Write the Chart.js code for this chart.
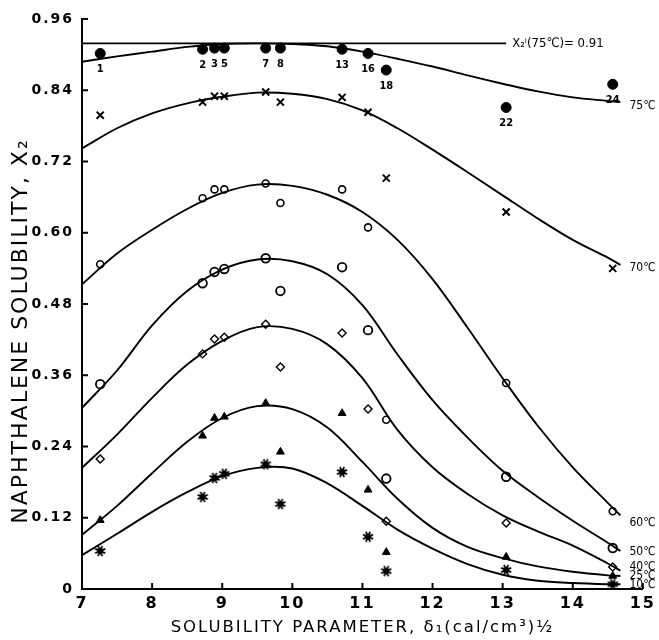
<!DOCTYPE html>
<html>
<head>
<meta charset="utf-8">
<script src="https://cdn.jsdelivr.net/npm/chart.js@4/dist/chart.umd.min.js"></script>
<style>
  html, body { margin: 0; padding: 0; background: #fff; }
  #wrap { width: 659px; height: 640px; }
</style>
</head>
<body>
<div id="wrap"><canvas id="c" width="659" height="640"></canvas></div>
<script>
// ---------- data ----------
const solventDelta = [7.26, 8.72, 8.89, 9.03, 9.62, 9.83, 10.71, 11.08, 11.34, 13.05, 14.57];
const solventNo    = ['1', '2', '3', '5', '7', '8', '13', '16', '18', '22', '24'];

const obs75 = [0.902, 0.909, 0.911, 0.911, 0.911, 0.911, 0.909, 0.902, 0.874, 0.811, 0.850];
const obs70 = [0.798, 0.820, 0.830, 0.830, 0.837, 0.820, 0.828, 0.803, 0.692, 0.635, 0.540];
const obs60 = [0.547, 0.658, 0.673, 0.673, 0.683, 0.650, 0.673, 0.609, 0.285, 0.347, 0.131];
const obs50 = [0.345, 0.515, 0.534, 0.539, 0.557, 0.502, 0.542, 0.436, 0.186, 0.189, 0.069];
const obs40 = [0.219, 0.396, 0.421, 0.424, 0.446, 0.374, 0.431, 0.303, 0.114, 0.111, 0.037];
const obs25 = [0.116, 0.258, 0.288, 0.290, 0.313, 0.231, 0.296, 0.167, 0.062, 0.054, 0.022];
const obs10 = [0.064, 0.155, 0.187, 0.194, 0.210, 0.143, 0.197, 0.088, 0.030, 0.032, 0.008];

const curveDelta = [7, 7.5, 8, 8.5, 9, 9.5, 10, 10.5, 11, 11.5, 12, 12.5, 13, 13.5, 14, 14.5, 14.68];
const fit75 = [0.888, 0.897, 0.905, 0.913, 0.918, 0.919, 0.918, 0.914, 0.905, 0.893, 0.880, 0.865, 0.851, 0.838, 0.828, 0.822, 0.820];
const fit70 = [0.742, 0.776, 0.801, 0.818, 0.829, 0.836, 0.834, 0.825, 0.806, 0.776, 0.740, 0.702, 0.663, 0.624, 0.588, 0.558, 0.546];
const fit60 = [0.513, 0.565, 0.605, 0.640, 0.667, 0.681, 0.679, 0.664, 0.635, 0.588, 0.522, 0.440, 0.355, 0.275, 0.205, 0.145, 0.124];
const fit50 = [0.305, 0.368, 0.444, 0.502, 0.538, 0.555, 0.552, 0.530, 0.478, 0.395, 0.318, 0.255, 0.199, 0.155, 0.115, 0.078, 0.064];
const fit40 = [0.204, 0.260, 0.322, 0.378, 0.418, 0.441, 0.438, 0.412, 0.355, 0.268, 0.205, 0.160, 0.124, 0.097, 0.073, 0.043, 0.031];
const fit25 = [0.091, 0.140, 0.195, 0.248, 0.288, 0.308, 0.303, 0.272, 0.214, 0.152, 0.103, 0.071, 0.052, 0.038, 0.029, 0.023, 0.022];
const fit10 = [0.057, 0.093, 0.130, 0.163, 0.190, 0.204, 0.203, 0.178, 0.140, 0.100, 0.068, 0.042, 0.024, 0.014, 0.010, 0.008, 0.008];

const idealDelta = [7, 13.05];
const idealX2 = 0.919;
const idealLabel = 'X\u2082\u2071(75\u2103)= 0.91';

const curveLabels = ['75\u2103', '70\u2103', '60\u2103', '50\u2103', '40\u2103', '25\u2103', '10\u2103'];

const xTicks = [7, 8, 9, 10, 11, 12, 13, 14, 15];
const yTicks = [0, 0.12, 0.24, 0.36, 0.48, 0.60, 0.72, 0.84, 0.96];
const yTickLabels = ['0', '0.12', '0.24', '0.36', '0.48', '0.60', '0.72', '0.84', '0.96'];

const xTitle = 'SOLUBILITY PARAMETER, \u03b4\u2081(cal/cm\u00b3)\u00bd';
const yTitle = 'NAPHTHALENE SOLUBILITY, X\u2082';

// ---------- helpers ----------
const pts = (xs, ys) => xs.map((x, i) => ({ x: x, y: ys[i] }));

function makeStar() {
  const c = document.createElement('canvas');
  c.width = 12; c.height = 12;
  const g = c.getContext('2d');
  g.fillStyle = '#000'; g.strokeStyle = '#000';
  g.beginPath(); g.arc(6, 6, 3.2, 0, Math.PI * 2); g.fill();
  g.lineWidth = 1.7;
  for (let i = 0; i < 8; i++) {
    const a = i * Math.PI / 4 + Math.PI / 8;
    g.beginPath(); g.moveTo(6, 6);
    g.lineTo(6 + 5.5 * Math.cos(a), 6 + 5.5 * Math.sin(a)); g.stroke();
  }
  return c;
}
const starImg = makeStar();

const curveStyle = { showLine: true, borderColor: '#000', borderWidth: 1.9, pointRadius: 0, tension: 0.35, fill: false, clip: false };

const fits = [fit75, fit70, fit60, fit50, fit40, fit25, fit10];
const labelOffsets = [[9, 4], [9, 3], [9, 7], [9, 1], [9, -4], [9, 0], [9, 1]];

const datasets = [];
datasets.push(Object.assign({ label: 'ideal', data: pts(idealDelta, [idealX2, idealX2]) }, curveStyle));
fits.forEach((f, i) => datasets.push(Object.assign({ label: 'fit ' + curveLabels[i], data: pts(curveDelta, f) }, curveStyle)));

datasets.push({ label: '75', data: pts(solventDelta, obs75), pointStyle: 'circle', pointRadius: 5, backgroundColor: '#000', borderColor: '#000', borderWidth: 1, clip: false });
datasets.push({ label: '70', data: pts(solventDelta, obs70), pointStyle: 'crossRot', pointRadius: 5, borderColor: '#000', borderWidth: 2, clip: false });
datasets.push({ label: '60', data: pts(solventDelta, obs60), pointStyle: 'circle', pointRadius: 3.5, backgroundColor: '#fff', borderColor: '#000', borderWidth: 1.6, clip: false });
datasets.push({ label: '50', data: pts(solventDelta, obs50), pointStyle: 'circle', pointRadius: 4.3, backgroundColor: '#fff', borderColor: '#000', borderWidth: 1.8, clip: false });
datasets.push({ label: '40', data: pts(solventDelta, obs40), pointStyle: 'rectRot', pointRadius: 4, backgroundColor: '#fff', borderColor: '#000', borderWidth: 1.4, clip: false });
datasets.push({ label: '25', data: pts(solventDelta, obs25), pointStyle: 'triangle', pointRadius: 4.5, backgroundColor: '#000', borderColor: '#000', borderWidth: 1, clip: false });
datasets.push({ label: '10', data: pts(solventDelta, obs10), pointStyle: starImg, pointRadius: 6, backgroundColor: '#000', borderColor: '#000', clip: false });

const annotate = {
  id: 'annotate',
  beforeDraw(chart) { chart.ctx.letterSpacing = '2px'; },
  afterDraw(chart) {
    const ctx = chart.ctx, xs = chart.scales.x, ys = chart.scales.y;
    ctx.save();
    ctx.letterSpacing = '0px';
    ctx.strokeStyle = '#000'; ctx.lineWidth = 2;
    // inward tick marks
    xTicks.forEach(v => { const p = xs.getPixelForValue(v); ctx.beginPath(); ctx.moveTo(p, ys.bottom); ctx.lineTo(p, ys.bottom - 6); ctx.stroke(); });
    yTicks.forEach(v => { const p = ys.getPixelForValue(v); ctx.beginPath(); ctx.moveTo(xs.left, p); ctx.lineTo(xs.left + 6, p); ctx.stroke(); });
    ctx.fillStyle = '#000';
    // solvent numbers under the 75 C points
    ctx.font = 'bold 11px "Liberation Sans Narrow", "DejaVu Sans Condensed", sans-serif';
    ctx.textAlign = 'center'; ctx.textBaseline = 'middle';
    solventDelta.forEach((d, i) => {
      ctx.fillText(solventNo[i], xs.getPixelForValue(d), ys.getPixelForValue(obs75[i]) + 16);
    });
    // temperature labels at curve ends
    ctx.font = '12px "Liberation Sans Narrow", "DejaVu Sans Condensed", sans-serif';
    ctx.textAlign = 'left';
    fits.forEach((f, i) => {
      const last = curveDelta.length - 1;
      ctx.fillText(curveLabels[i], xs.getPixelForValue(curveDelta[last]) + labelOffsets[i][0], ys.getPixelForValue(f[last]) + labelOffsets[i][1]);
    });
    // ideal solubility label
    ctx.font = '13px "Liberation Sans Narrow", "DejaVu Sans Condensed", sans-serif';
    ctx.fillText(idealLabel, xs.getPixelForValue(idealDelta[1]) + 6, ys.getPixelForValue(idealX2));
    ctx.restore();
  }
};

new Chart(document.getElementById('c'), {
  type: 'scatter',
  data: { datasets: datasets },
  options: {
    responsive: false,
    animation: false,
    events: [],
    layout: { padding: { top: 19, right: 14, left: 0, bottom: 0 } },
    plugins: { legend: { display: false }, tooltip: { enabled: false } },
    scales: {
      x: {
        type: 'linear', min: 7, max: 15,
        afterBuildTicks: s => { s.ticks = xTicks.map(v => ({ value: v })); },
        ticks: { color: '#000', font: { family: 'DejaVu Sans', weight: 'bold', size: 16 }, padding: 5, maxRotation: 0 },
        grid: { drawOnChartArea: false, drawTicks: false },
        border: { color: '#000', width: 2 },
        title: { display: true, text: xTitle, color: '#000', font: { family: 'DejaVu Sans', size: 16.5 }, padding: { top: 0, bottom: 2 } },
        afterFit: s => { s.height = 51; }
      },
      y: {
        type: 'linear', min: 0, max: 0.96,
        afterBuildTicks: s => { s.ticks = yTicks.map(v => ({ value: v })); },
        ticks: { color: '#000', font: { family: 'DejaVu Sans', weight: 'bold', size: 14 }, padding: 8, callback: (v, i) => yTickLabels[i] },
        grid: { drawOnChartArea: false, drawTicks: false },
        border: { color: '#000', width: 2 },
        title: { display: true, text: yTitle + '      ', color: '#000', font: { family: 'DejaVu Sans', size: 22 }, padding: { top: 8, bottom: 0 } },
        afterFit: s => { s.width = 82; }
      }
    }
  },
  plugins: [annotate]
});
</script>
</body>
</html>
